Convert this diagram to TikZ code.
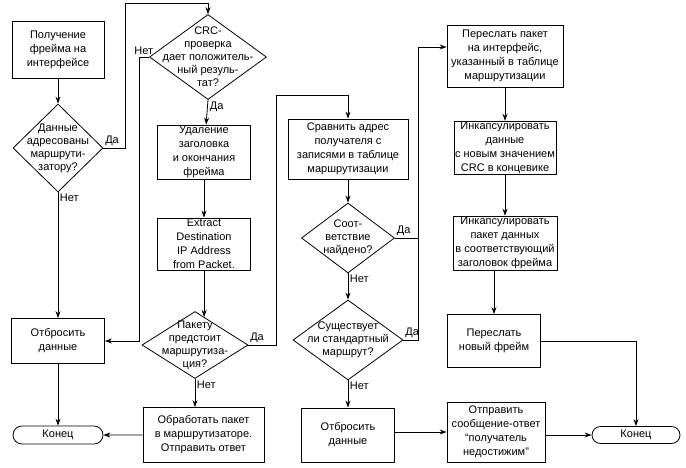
\documentclass[tikz,border=0pt]{standalone}
\usepackage{fontspec}
\setmainfont{Liberation Sans}
\usetikzlibrary{shapes.geometric,shapes.misc,arrows.meta}

\begin{document}
\begin{tikzpicture}[x=1pt,y=-1pt,
    every node/.style={font=\fontsize{11}{14}\selectfont},
    box/.style={draw,rectangle,align=center,inner sep=1pt},
    decision/.style={draw,diamond,inner sep=0pt},
    dtext/.style={align=center,inner sep=0pt,font=\fontsize{11}{13}\selectfont},
    term/.style={draw,rounded rectangle,minimum width=90,minimum height=18,inner sep=0pt},
    lbl/.style={inner sep=1.5pt},
    line width=0.8pt, >={Stealth[length=7pt,width=5pt]}]
  \useasboundingbox (0,0) rectangle (686,467);
  % first column
  \draw
    (58,50) node[box,minimum width=92,minimum height=57] (start) {Получение\\фрейма на\\интерфейсе}
    (58,148) node[decision,minimum width=90,minimum height=88,
      label={[dtext]center:{Данные\\адресованы\\маршрути-\\затору?}}] (d1) {}
    (58,341) node[box,minimum width=93,minimum height=45] (drop1) {Отбросить\\данные}
    (58,435) node[term] (end1) {Конец};
  % second column
  \draw
    (208,57) node[decision,minimum width=117,minimum height=85,
      label={[dtext]center:{CRC-\\проверка\\дает положитель-\\ный резуль-\\тат?}}] (crc) {}
    (204,152) node[box,minimum width=93,minimum height=53] (del) {Удаление\\заголовка\\и окончания\\фрейма}
    (204,244) node[box,minimum width=93,minimum height=52] (ext) {Extract\\Destination\\IP Address\\from Packet.}
    (195,345) node[decision,minimum width=106,minimum height=67,
      label={[dtext]center:{Пакету\\предстоит\\маршрутиза-\\ция?}}] (d3) {}
    (203.5,435) node[box,minimum width=121,minimum height=55] (proc) {Обработать пакет\\в маршрутизаторе.\\Отправить ответ};
  % third column
  \draw
    (348,149) node[box,minimum width=120,minimum height=60] (cmp) {Сравнить адрес\\получателя с\\записями в таблице\\маршрутизации}
    (348,238) node[decision,minimum width=93,minimum height=70,
      label={[dtext]center:{Соот-\\ветствие\\найдено?}}] (d4) {}
    (348,340) node[decision,minimum width=110,minimum height=80,
      label={[dtext]center:{Существует\\ли стандартный\\маршрут?}}] (d5) {}
    (348,435) node[box,minimum width=93,minimum height=54] (drop2) {Отбросить\\данные}
    (496,432) node[box,minimum width=98,minimum height=60] (unr) {Отправить\\сообщение-ответ\\“получатель\\недостижим”}
    (636,435) node[term,minimum width=88,minimum height=17] (end2) {Конец};
  % fourth column
  \draw
    (505,56) node[box,minimum width=116,minimum height=62] (fwd) {Переслать пакет\\на интерфейс,\\указанный в таблице\\маршрутизации}
    (505,148) node[box,minimum width=99,minimum height=52] (enc1) {Инкапсулировать\\данные\\с новым значением\\CRC в концевике}
    (505,243) node[box,minimum width=104,minimum height=51] (enc2) {Инкапсулировать\\пакет данных\\в соответствующий\\заголовок фрейма}
    (494,341) node[box,minimum width=93,minimum height=53] (send) {Переслать\\новый фрейм};
  \coordinate (t1) at (125,3);
  \coordinate (t2) at (276,95);
  \coordinate (t3) at (418,47);
  \begin{scope}[->]
    \draw (start) -- (d1);
    \draw (d1.east) node[lbl,above right] {Да} -| (t1) -| (crc.north);
    \draw (d1.south) node[lbl,below right] {Нет} -- (drop1);
    \draw (drop1) -- (end1);
    \draw (crc.west) node[lbl,above left,xshift=6pt] {Нет} -- ++(-10,0) |- (drop1.east);
    \draw (crc.south) node[lbl,below right] {Да} -- (del);
    \draw (del) -- (ext);
    \draw (d3.72 |- ext.south) -- (d3.72);
    \draw (d3.east) node[lbl,above right] {Да} -| (t2) -| (cmp.north);
    \draw (d3.south) node[lbl,below right] {Нет} -- (d3.south |- proc.north);
    \draw (proc) -- (end1);
    \draw (cmp) -- (d4);
    \draw (d4.east) node[lbl,above right] {Да} -| (t3) -- (t3 -| fwd.west);
    \draw (d4.south) node[lbl,below right] {Нет} -- (d5);
    \draw (d5.south) node[lbl,below right] {Нет} -- (drop2);
    \draw (drop2.east |- unr.east) -- (unr.west);
    \draw (unr.east |- end2.west) -- (end2.west);
    \draw (fwd) -- (enc1);
    \draw (enc1) -- (enc2);
    \draw (enc2.south -| send.north) -- (send.north);
    \draw (send.east) -| (end2.north);
  \end{scope}
  \draw (d5.east) node[lbl,above right] {Да} -| (t3);
\end{tikzpicture}
\end{document}
